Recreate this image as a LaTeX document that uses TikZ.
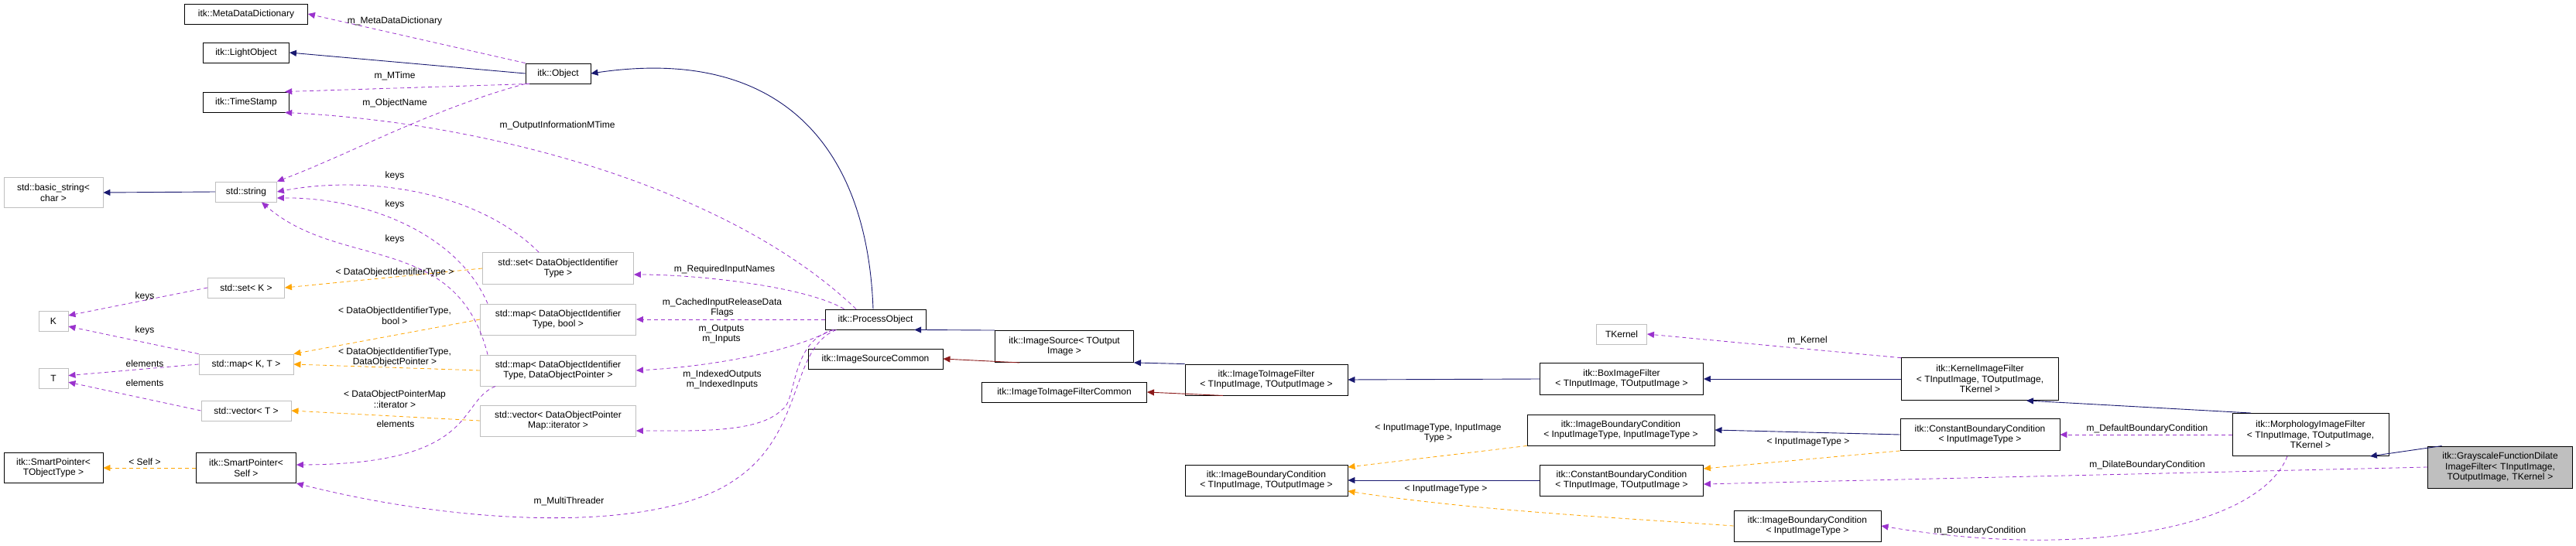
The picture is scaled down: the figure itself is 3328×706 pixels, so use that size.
\documentclass[tikz,border=0pt]{standalone}
\usepackage{fontspec}
\setmainfont{Liberation Sans}
\usetikzlibrary{arrows.meta,calc}
\definecolor{inhc}{HTML}{191970}
\definecolor{usec}{HTML}{9A32CD}
\definecolor{tplc}{HTML}{FFA500}
\definecolor{protc}{HTML}{8B1A1A}
\definecolor{extc}{HTML}{BFBFBF}
\begin{document}
\begin{tikzpicture}[x=1pt,y=-1pt,
  every node/.style={font=\fontsize{12}{13.5}\selectfont},
  box/.style={draw=black,line width=0.9pt,inner sep=1pt,align=center,minimum height=26pt},
  ext/.style={box,draw=extc},
  tip/.style={-{Triangle[length=9pt,width=8pt]}},
  inh/.style={tip,draw=inhc,line width=0.9pt},
  prot/.style={tip,draw=protc,line width=0.9pt},
  use/.style={tip,draw=usec,dashed,dash pattern=on 5pt off 4pt,line width=0.8pt},
  tpl/.style={tip,draw=tplc,dashed,dash pattern=on 5pt off 4pt,line width=0.8pt},
  lbl/.style={align=center,inner sep=0pt}]
\useasboundingbox (0,0) rectangle (3328,706);
% nodes
\node[box,minimum width=159pt] (mdd) at (318,18) {itk::MetaDataDictionary};
\node[box,minimum width=111pt] (lo) at (318,68) {itk::LightObject};
\node[box,minimum width=111pt] (ts) at (318,132) {itk::TimeStamp};
\node[box,minimum width=84pt] (obj) at (721,95) {itk::Object};
\node[ext,minimum width=128pt,minimum height=39pt] (bs) at (69,249) {std::basic\_string<\\char >};
\node[ext,minimum width=79pt] (str) at (318,248) {std::string};
\node[ext,minimum width=99pt] (setK) at (318,372) {std::set< K >};
\node[ext,minimum width=38pt] (K) at (69,415) {K};
\node[ext,minimum width=122pt] (mapKT) at (318,471) {std::map< K, T >};
\node[ext,minimum width=38pt] (T) at (69,489) {T};
\node[ext,minimum width=116pt] (vecT) at (318,531) {std::vector< T >};
\node[box,minimum width=128pt,minimum height=39pt] (spT) at (69,605) {itk::SmartPointer<\\TObjectType >};
\node[box,minimum width=129pt,minimum height=39pt] (spS) at (318,605) {itk::SmartPointer<\\Self >};
\node[ext,minimum width=195pt,minimum height=41pt] (setD) at (721,347) {std::set< DataObjectIdentifier\\Type >};
\node[ext,minimum width=201pt,minimum height=40pt] (mapDB) at (721,413) {std::map< DataObjectIdentifier\\Type, bool >};
\node[ext,minimum width=201pt,minimum height=40pt] (mapDP) at (721,479) {std::map< DataObjectIdentifier\\Type, DataObjectPointer >};
\node[ext,minimum width=201pt,minimum height=40pt] (vecD) at (721,544) {std::vector< DataObjectPointer\\Map::iterator >};
\node[box,minimum width=130pt] (po) at (1131,413) {itk::ProcessObject};
\node[box,minimum width=174pt] (isc) at (1131,464) {itk::ImageSourceCommon};
\node[box,minimum width=179pt,minimum height=41pt] (is) at (1375,448) {itk::ImageSource< TOutput\\Image >};
\node[box,minimum width=213pt] (itifc) at (1375,507) {itk::ImageToImageFilterCommon};
\node[box,minimum width=210pt,minimum height=40pt] (itif) at (1636,491) {itk::ImageToImageFilter\\< TInputImage, TOutputImage >};
\node[box,minimum width=210pt,minimum height=40pt] (ibcT) at (1636,621) {itk::ImageBoundaryCondition\\< TInputImage, TOutputImage >};
\node[ext,minimum width=65pt] (tk) at (2095,432) {TKernel};
\node[box,minimum width=211pt,minimum height=41pt] (box) at (2095,490) {itk::BoxImageFilter\\< TInputImage, TOutputImage >};
\node[box,minimum width=242pt,minimum height=40pt] (ibcII) at (2094,556) {itk::ImageBoundaryCondition\\< InputImageType, InputImageType >};
\node[box,minimum width=211pt,minimum height=40pt] (cbcT) at (2095,621) {itk::ConstantBoundaryCondition\\< TInputImage, TOutputImage >};
\node[box,minimum width=190pt,minimum height=40pt] (ibcI) at (2335,680) {itk::ImageBoundaryCondition\\< InputImageType >};
\node[box,minimum width=203pt,minimum height=55pt] (kif) at (2558,490) {itk::KernelImageFilter\\< TInputImage, TOutputImage,\\TKernel >};
\node[box,minimum width=206pt,minimum height=41pt] (cbcI) at (2558,562) {itk::ConstantBoundaryCondition\\< InputImageType >};
\node[box,minimum width=202pt,minimum height=55pt] (morph) at (2985,562) {itk::MorphologyImageFilter\\< TInputImage, TOutputImage,\\TKernel >};
\node[box,fill=extc,minimum width=187pt,minimum height=54pt,text width=183pt] (gray) at (3230,604) {itk::GrayscaleFunctionDilate\\ImageFilter< TInputImage,\\TOutputImage, TKernel >};
% edges
\draw[use] (obj.north west) -- (mdd.east);
\draw[inh] (obj.west) -- (lo.east);
\draw[use] (obj.200) -- (ts.15);
\draw[use] (obj.south west) .. controls (560,140) and (450,200) .. (str.north east);
\draw[use] ($(po.north)+(-25,0)$) .. controls (950,250) and (650,160) .. (ts.-15);
\draw[inh] ($(po.north)+(-3,0)$) .. controls (1120,180) and (1000,60) .. (obj.east);
\draw[inh] (str.west) -- (bs.east);
\draw[use] ($(setD.north)+(-25,0)$) .. controls (620,250) and (480,225) .. (str.east);
\draw[use] ($(mapDB.north west)+(10,0)$) .. controls (590,300) and (470,255) .. ($(str.east)+(0,8)$);
\draw[use] ($(mapDP.north west)+(10,0)$) .. controls (590,300) and (440,350) .. ($(str.south)+(20,0)$);
\draw[tpl] (setD.west) -- (setK.east);
\draw[tpl] (mapDB.west) -- (mapKT.north east);
\draw[tpl] (mapDP.west) -- (mapKT.east);
\draw[tpl] (vecD.west) -- (vecT.east);
\draw[use] (setK.west) -- (K.20);
\draw[use] (mapKT.north west) -- (K.-20);
\draw[use] (mapKT.west) -- (T.10);
\draw[use] (vecT.west) -- (T.-15);
\draw[tpl] (spS.west) -- (spT.east);
\draw[use] ($(mapDP.south west)+(20,0)$) .. controls (590,520) and (620,600) .. ($(spS.east)+(0,-4)$);
\draw[use] ($(po.south west)+(15,0)$) .. controls (1020,450) and (1040,560) .. (950,620) .. controls (850,690) and (600,680) .. (spS.south east);
\draw[use] ($(po.north west)+(25,0)$) .. controls (1040,370) and (900,355) .. ($(setD.east)+(0,8)$);
\draw[use] (po.west) -- (mapDB.east);
\draw[use] ($(po.south west)+(10,0)$) .. controls (1010,460) and (900,475) .. (mapDP.east);
\draw[use] ($(po.south west)+(12,0)$) .. controls (1020,440) and (1030,520) .. (1010,530) .. controls (980,560) and (900,557) .. ($(vecD.east)+(0,13)$);
\draw[inh] (is.north west) -- (po.-15);
\draw[prot] (is.-160) -- (isc.east);
\draw[inh] (itif.north west) -- (is.south east);
\draw[prot] (itif.-160) -- (itifc.east);
\draw[inh] (box.west) -- (itif.east);
\draw[inh] (kif.west) -- (box.east);
\draw[use] (kif.165) -- (tk.east);
\draw[inh] (morph.160) -- (kif.-25);
\draw[inh] (gray.160) -- (morph.-20);
\draw[use] (morph.west) -- (cbcI.east);
\draw[inh] (cbcI.west) -- (ibcII.east);
\draw[tpl] (cbcI.south west) -- ($(cbcT.east)+(0,-15)$);
\draw[tpl] (ibcII.south west) -- ($(ibcT.east)+(0,-17)$);
\draw[inh] (cbcT.west) -- (ibcT.east);
\draw[tpl] (ibcI.west) .. controls (2100,670) and (1900,660) .. ($(ibcT.east)+(0,14)$);
\draw[use] (gray.west) -- ($(cbcT.east)+(0,5)$);
\draw[use] ($(morph.south)+(-30,0)$) .. controls (2920,680) and (2700,725) .. (ibcI.east);
% labels
\node[lbl] (l1) at (510,27) {m\_MetaDataDictionary};
\node[lbl] (l2) at (510,98) {m\_MTime};
\node[lbl] (l3) at (510,133) {m\_ObjectName};
\node[lbl] (l4) at (720,162) {m\_OutputInformationMTime};
\node[lbl] (l5) at (510,227) {keys};
\node[lbl] (l6) at (510,264) {keys};
\node[lbl] (l7) at (510,309) {keys};
\node[lbl] (l8) at (510,352) {< DataObjectIdentifierType >};
\node[lbl] (l9) at (510,408) {< DataObjectIdentifierType,\\bool >};
\node[lbl] (l10) at (510,462) {< DataObjectIdentifierType,\\DataObjectPointer >};
\node[lbl] (l11) at (510,516) {< DataObjectPointerMap\\::iterator >};
\node[lbl] (l12) at (511,548) {elements};
\node[lbl] (l13) at (187,383) {keys};
\node[lbl] (l14) at (187,427) {keys};
\node[lbl] (l15) at (187,470) {elements};
\node[lbl] (l16) at (187,495) {elements};
\node[lbl] (l17) at (187,597) {< Self >};
\node[lbl] (l18) at (735,648) {m\_MultiThreader};
\node[lbl] (l19) at (936,348) {m\_RequiredInputNames};
\node[lbl] (l20) at (933,398) {m\_CachedInputReleaseData\\Flags};
\node[lbl] (l21) at (932,432) {m\_Outputs\\m\_Inputs};
\node[lbl] (l22) at (933,491) {m\_IndexedOutputs\\m\_IndexedInputs};
\node[lbl] (l23) at (2335,440) {m\_Kernel};
\node[lbl] (l24) at (2774,554) {m\_DefaultBoundaryCondition};
\node[lbl] (l25) at (2774,601) {m\_DilateBoundaryCondition};
\node[lbl] (l26) at (2558,686) {m\_BoundaryCondition};
\node[lbl] (l27) at (2336,572) {< InputImageType >};
\node[lbl] (l28) at (1858,560) {< InputImageType, InputImage\\Type >};
\node[lbl] (l29) at (1868,633) {< InputImageType >};
\end{tikzpicture}
\end{document}
